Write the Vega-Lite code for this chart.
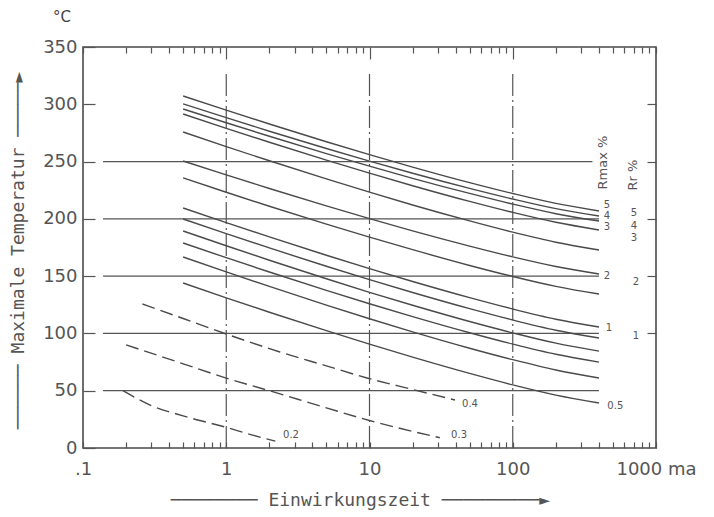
{
  "$schema": "https://vega.github.io/schema/vega-lite/v6.json",
  "width": 573,
  "height": 401,
  "autosize": {"type": "none"},
  "padding": {"left": 83, "top": 47, "right": 58, "bottom": 69},
  "background": "white",
  "title": {"text": "°C", "anchor": "start", "frame": "group", "dx": -30, "offset": 13, "fontSize": 15, "font": "DejaVu Sans", "fontWeight": "normal", "color": "#444"},
  "config": {
    "view": {"stroke": "#4a4a4a", "strokeWidth": 1.6},
    "axis": {"domain": false, "grid": false, "labelFont": "DejaVu Sans", "labelColor": "#555", "labelFontSize": 18, "tickColor": "#555", "tickWidth": 1.2, "titleFont": "DejaVu Sans Mono", "titleFontWeight": "normal", "titleColor": "#555", "titleFontSize": 18, "labelOverlap": false, "labelFlush": false, "labelBound": false}
  },
  "datasets": {
    "solid": [
      {"c":1,"t":0.5,"T":307.2},{"c":1,"t":1,"T":294.9},{"c":1,"t":2,"T":282.8},{"c":1,"t":5,"T":267.3},{"c":1,"t":10,"T":256.0},{"c":1,"t":20,"T":245.2},{"c":1,"t":50,"T":231.6},{"c":1,"t":100,"T":222.1},{"c":1,"t":200,"T":213.5},{"c":1,"t":400,"T":206.9},
      {"c":2,"t":0.5,"T":300.3},{"c":2,"t":1,"T":288.3},{"c":2,"t":2,"T":276.5},{"c":2,"t":5,"T":261.4},{"c":2,"t":10,"T":250.4},{"c":2,"t":20,"T":239.8},{"c":2,"t":50,"T":226.6},{"c":2,"t":100,"T":217.3},{"c":2,"t":200,"T":208.9},{"c":2,"t":400,"T":202.5},
      {"c":3,"t":0.5,"T":295.9},{"c":3,"t":1,"T":283.9},{"c":3,"t":2,"T":272.1},{"c":3,"t":5,"T":257.0},{"c":3,"t":10,"T":246.0},{"c":3,"t":20,"T":235.4},{"c":3,"t":50,"T":222.2},{"c":3,"t":100,"T":212.9},{"c":3,"t":200,"T":204.5},{"c":3,"t":400,"T":198.1},
      {"c":4,"t":0.5,"T":291.5},{"c":4,"t":1,"T":279.0},{"c":4,"t":2,"T":266.9},{"c":4,"t":5,"T":251.3},{"c":4,"t":10,"T":239.9},{"c":4,"t":20,"T":228.9},{"c":4,"t":50,"T":215.2},{"c":4,"t":100,"T":205.6},{"c":4,"t":200,"T":197.0},{"c":4,"t":400,"T":190.3},
      {"c":5,"t":0.5,"T":275.8},{"c":5,"t":1,"T":263.1},{"c":5,"t":2,"T":250.7},{"c":5,"t":5,"T":234.9},{"c":5,"t":10,"T":223.3},{"c":5,"t":20,"T":212.1},{"c":5,"t":50,"T":198.2},{"c":5,"t":100,"T":188.4},{"c":5,"t":200,"T":179.6},{"c":5,"t":400,"T":172.8},
      {"c":6,"t":0.5,"T":250.5},{"c":6,"t":1,"T":238.4},{"c":6,"t":2,"T":226.5},{"c":6,"t":5,"T":211.3},{"c":6,"t":10,"T":200.2},{"c":6,"t":20,"T":189.5},{"c":6,"t":50,"T":176.2},{"c":6,"t":100,"T":166.8},{"c":6,"t":200,"T":158.4},{"c":6,"t":400,"T":151.9},
      {"c":7,"t":0.5,"T":235.7},{"c":7,"t":1,"T":223.2},{"c":7,"t":2,"T":211.0},{"c":7,"t":5,"T":195.4},{"c":7,"t":10,"T":184.0},{"c":7,"t":20,"T":173.1},{"c":7,"t":50,"T":159.3},{"c":7,"t":100,"T":149.7},{"c":7,"t":200,"T":141.1},{"c":7,"t":400,"T":134.4},
      {"c":8,"t":0.5,"T":209.5},{"c":8,"t":1,"T":196.7},{"c":8,"t":2,"T":184.2},{"c":8,"t":5,"T":168.2},{"c":8,"t":10,"T":156.5},{"c":8,"t":20,"T":145.3},{"c":8,"t":50,"T":131.2},{"c":8,"t":100,"T":121.3},{"c":8,"t":200,"T":112.4},{"c":8,"t":400,"T":105.6},
      {"c":9,"t":0.5,"T":199.9},{"c":9,"t":1,"T":187.1},{"c":9,"t":2,"T":174.6},{"c":9,"t":5,"T":158.6},{"c":9,"t":10,"T":146.9},{"c":9,"t":20,"T":135.7},{"c":9,"t":50,"T":121.6},{"c":9,"t":100,"T":111.7},{"c":9,"t":200,"T":102.8},{"c":9,"t":400,"T":96.0},
      {"c":10,"t":0.5,"T":189.4},{"c":10,"t":1,"T":176.5},{"c":10,"t":2,"T":163.9},{"c":10,"t":5,"T":147.7},{"c":10,"t":10,"T":135.9},{"c":10,"t":20,"T":124.6},{"c":10,"t":50,"T":110.4},{"c":10,"t":100,"T":100.5},{"c":10,"t":200,"T":91.5},{"c":10,"t":400,"T":84.6},
      {"c":11,"t":0.5,"T":178.9},{"c":11,"t":1,"T":166.1},{"c":11,"t":2,"T":153.6},{"c":11,"t":5,"T":137.6},{"c":11,"t":10,"T":125.9},{"c":11,"t":20,"T":114.7},{"c":11,"t":50,"T":100.6},{"c":11,"t":100,"T":90.7},{"c":11,"t":200,"T":81.8},{"c":11,"t":400,"T":75.0},
      {"c":12,"t":0.5,"T":166.7},{"c":12,"t":1,"T":153.7},{"c":12,"t":2,"T":141.0},{"c":12,"t":5,"T":124.7},{"c":12,"t":10,"T":112.8},{"c":12,"t":20,"T":101.4},{"c":12,"t":50,"T":87.1},{"c":12,"t":100,"T":77.1},{"c":12,"t":200,"T":68.1},{"c":12,"t":400,"T":61.1},
      {"c":13,"t":0.5,"T":144.0},{"c":13,"t":1,"T":131.1},{"c":13,"t":2,"T":118.5},{"c":13,"t":5,"T":102.4},{"c":13,"t":10,"T":90.6},{"c":13,"t":20,"T":79.3},{"c":13,"t":50,"T":65.1},{"c":13,"t":100,"T":55.1},{"c":13,"t":200,"T":46.2},{"c":13,"t":400,"T":39.3}
    ],
    "dashed": [
      {"c":"0.4","t":0.26,"T":125.7},{"c":"0.4","t":0.5,"T":113},{"c":"0.4","t":1,"T":99.5},{"c":"0.4","t":2.37,"T":83.8},{"c":"0.4","t":5,"T":71.7},{"c":"0.4","t":9.6,"T":61.1},{"c":"0.4","t":20,"T":51.1},{"c":"0.4","t":39.5,"T":41.9},
      {"c":"0.3","t":0.2,"T":90},{"c":"0.3","t":0.5,"T":73.5},{"c":"0.3","t":1,"T":61},{"c":"0.3","t":2,"T":50},{"c":"0.3","t":5,"T":35},{"c":"0.3","t":10,"T":24},{"c":"0.3","t":20,"T":14.5},{"c":"0.3","t":31,"T":9},
      {"c":"0.2","t":0.19,"T":50},{"c":"0.2","t":0.3,"T":37},{"c":"0.2","t":0.5,"T":28},{"c":"0.2","t":1,"T":18},{"c":"0.2","t":1.5,"T":11.5},{"c":"0.2","t":2.2,"T":6}
    ],
    "hgrid": [
      {"T":50,"t1":0.138,"t2":400},{"T":100,"t1":0.138,"t2":400},{"T":150,"t1":0.138,"t2":400},{"T":200,"t1":0.138,"t2":400},{"T":250,"t1":0.138,"t2":360}
    ],
    "vgrid": [
      {"t":1,"T1":0,"T2":330},{"t":10,"T1":0,"T2":330},{"t":100,"T1":0,"T2":330}
    ],
    "labels": [
      {"t":2.83,"T":11.5,"text":"0.2"},
      {"t":42.2,"T":11.5,"text":"0.3"},
      {"t":50.3,"T":38.4,"text":"0.4"},
      {"t":520,"T":36.6,"text":"0.5"},
      {"t":455,"T":211.7,"text":"5"},
      {"t":455,"T":202.1,"text":"4"},
      {"t":455,"T":192.5,"text":"3"},
      {"t":455,"T":149.7,"text":"2"},
      {"t":470,"T":104.7,"text":"1"},
      {"t":702,"T":205.1,"text":"5"},
      {"t":702,"T":194.0,"text":"4"},
      {"t":702,"T":183.0,"text":"3"},
      {"t":725,"T":144.9,"text":"2"},
      {"t":725,"T":97.7,"text":"1"}
    ],
    "heads": [
      {"t":427,"T":249.1,"text":"Rmax %"},
      {"t":690,"T":238.2,"text":"Rr %"}
    ]
  },
  "resolve": {"axis": {"x": "independent", "y": "independent"}},
  "layer": [
    {
      "data": {"name": "hgrid"},
      "mark": {"type": "rule", "color": "#555", "strokeWidth": 1.2},
      "encoding": {
        "y": {"field": "T", "type": "quantitative", "scale": {"domain": [0, 350], "nice": false},
          "axis": {"orient": "left", "values": [0,50,100,150,200,250,300,350], "tickSize": -12, "labelPadding": 18,
            "title": "────── Maximale Temperatur ─────►", "titleX": -65, "titleY": 203, "titleAngle": 270, "titleAlign": "center", "titleBaseline": "middle"}},
        "x": {"field": "t1", "type": "quantitative", "scale": {"type": "log", "domain": [0.1, 1000]},
          "axis": {"orient": "bottom", "values": [0.1,0.2,0.3,0.4,0.5,0.6,0.7,0.8,0.9,1,2,3,4,5,6,7,8,9,10,20,30,40,50,60,70,80,90,100,200,300,400,500,600,700,800,900,1000],
            "tickSize": -6, "labelPadding": 18,
            "labelExpr": "datum.value == 0.1 ? '.1' : datum.value == 1 ? '1' : datum.value == 10 ? '10' : datum.value == 100 ? '100' : datum.value == 1000 ? '1000 ma' : ''",
            "title": "──────── Einwirkungszeit ─────────►", "titleX": 277, "titleY": 52, "titleAlign": "center", "titleBaseline": "middle"}},
        "x2": {"field": "t2"}
      }
    },
    {
      "data": {"name": "vgrid"},
      "mark": {"type": "rule", "color": "#555", "strokeWidth": 1.2, "strokeDash": [22, 4, 2, 4]},
      "encoding": {
        "x": {"field": "t", "type": "quantitative", "scale": {"type": "log", "domain": [0.1, 1000]},
          "axis": {"orient": "top", "values": [0.1,0.2,0.3,0.4,0.5,0.6,0.7,0.8,0.9,1,2,3,4,5,6,7,8,9,10,20,30,40,50,60,70,80,90,100,200,300,400,500,600,700,800,900,1000],
            "labels": false, "title": null,
            "tickSize": {"condition": {"test": "datum.value == 1 || datum.value == 10 || datum.value == 100", "value": -12}, "value": -6}}},
        "y": {"field": "T1", "type": "quantitative", "scale": {"domain": [0, 350], "nice": false},
          "axis": {"orient": "right", "values": [100,150,200,250,300], "labels": false, "title": null, "tickSize": -9}},
        "y2": {"field": "T2"}
      }
    },
    {
      "data": {"name": "solid"},
      "mark": {"type": "line", "color": "#4a4a4a", "strokeWidth": 1.4, "interpolate": "monotone"},
      "encoding": {
        "x": {"field": "t", "type": "quantitative", "scale": {"type": "log", "domain": [0.1, 1000]}, "axis": null},
        "y": {"field": "T", "type": "quantitative", "scale": {"domain": [0, 350], "nice": false}, "axis": null},
        "detail": {"field": "c", "type": "nominal"}
      }
    },
    {
      "data": {"name": "dashed"},
      "mark": {"type": "line", "color": "#4a4a4a", "strokeWidth": 1.4, "interpolate": "monotone", "strokeDash": [13, 6]},
      "encoding": {
        "x": {"field": "t", "type": "quantitative", "scale": {"type": "log", "domain": [0.1, 1000]}, "axis": null},
        "y": {"field": "T", "type": "quantitative", "scale": {"domain": [0, 350], "nice": false}, "axis": null},
        "detail": {"field": "c", "type": "nominal"}
      }
    },
    {
      "data": {"name": "labels"},
      "mark": {"type": "text", "font": "DejaVu Sans", "fontSize": 10, "color": "#555"},
      "encoding": {
        "x": {"field": "t", "type": "quantitative", "scale": {"type": "log", "domain": [0.1, 1000]}, "axis": null},
        "y": {"field": "T", "type": "quantitative", "scale": {"domain": [0, 350], "nice": false}, "axis": null},
        "text": {"field": "text", "type": "nominal"}
      }
    },
    {
      "data": {"name": "heads"},
      "mark": {"type": "text", "font": "DejaVu Sans", "fontSize": 13, "color": "#555", "angle": 270},
      "encoding": {
        "x": {"field": "t", "type": "quantitative", "scale": {"type": "log", "domain": [0.1, 1000]}, "axis": null},
        "y": {"field": "T", "type": "quantitative", "scale": {"domain": [0, 350], "nice": false}, "axis": null},
        "text": {"field": "text", "type": "nominal"}
      }
    }
  ]
}
